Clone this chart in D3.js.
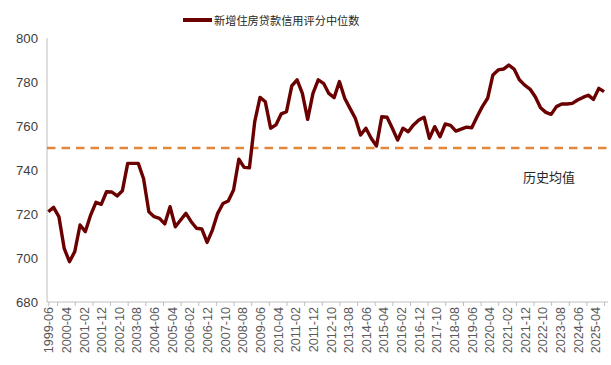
<!DOCTYPE html>
<html><head><meta charset="utf-8">
<script src="https://cdn.jsdelivr.net/npm/d3@7"></script>
<style>body{margin:0;background:#fff}svg{display:block}</style>
</head><body><svg id="c" width="611" height="365"></svg>
<script>
const seriesName = "新增住房贷款信用评分中位数";
const meanLabel = "历史均值";
const meanValue = 750;
const startMonth = "1999-06"; // quarterly observations from here
const values = [
 721,723,718.8,704.4,698.3,702.9,715,712,719.5,725.3,
 724.4,730.1,730,728.2,730.6,743,743,743,736,721,
 718.8,718,715.5,723.3,714.2,717.3,720.3,716.5,713.5,713.2,
 707.1,712.7,720.3,724.8,725.9,730.9,744.9,741.2,741,762,
 773,771,759,760.5,765.5,766.5,778.2,781,774.8,763,
 774.8,781,779.4,774.8,772.9,780.2,772.6,768,763.5,755.9,
 759,754.4,750.9,764.2,764,759,753.6,759,757.4,760.5,
 762.7,764,754.4,759.7,755.1,760.9,760.3,757.7,758.6,759.5,
 759.2,764.2,768.8,772.6,783.2,785.5,785.9,787.7,785.9,781,
 778.6,776.8,773.3,768.3,766.2,765.3,768.8,770,770,770.3,
 771.8,773,774,772.1,777.1,775.6
];
const tickLabels = ["1999-06","2000-04","2001-02","2001-12","2002-10","2003-08","2004-06","2005-04",
 "2006-02","2006-12","2007-10","2008-08","2009-06","2010-04","2011-02","2011-12","2012-10","2013-08",
 "2014-06","2015-04","2016-02","2016-12","2017-10","2018-08","2019-06","2020-04","2021-02","2021-12",
 "2022-10","2023-08","2024-06","2025-04"];
const yTicks = [680,700,720,740,760,780,800];

const monthIdx = s => { const [y,m] = s.split("-").map(Number); const [y0,m0] = startMonth.split("-").map(Number); return (y-y0)*12 + (m-m0); };
const data = values.map((v,i)=>({m:i*3, v}));

const svg = d3.select("#c");
const x = d3.scaleLinear().domain([0,317]).range([48.3,607.6]);
const y = d3.scaleLinear().domain([680,800]).range([302,38]);

// y axis line
svg.append("line").attr("x1",47).attr("x2",47).attr("y1",38).attr("y2",302).attr("stroke","#bfbfbf").attr("stroke-width",1);
// y labels
const ya = svg.append("g").attr("transform","translate(47,0)")
  .call(d3.axisLeft(y).tickValues(yTicks).tickSize(0).tickPadding(9).tickFormat(d3.format("d")));
ya.select(".domain").remove();
ya.selectAll("text").attr("font-family","Liberation Sans, Arial, sans-serif").attr("font-size",13.2).attr("fill","#404040");

// x axis
const xa = svg.append("g").attr("transform","translate(0,302)");
xa.append("line").attr("x1",47).attr("x2",608).attr("stroke","#bfbfbf");
const tickMarks = tickLabels.map(t=>monthIdx(t)+5);
xa.append("g").call(d3.axisBottom(x).tickValues([0,...tickMarks.filter(t=>t<=317)]).tickSize(4).tickFormat(""))
  .call(g=>{g.select(".domain").remove(); g.selectAll("line").attr("stroke","#bfbfbf");});
const xl = xa.append("g").call(d3.axisBottom(x).tickValues(tickLabels.map(monthIdx)).tickSize(0).tickFormat((d,i)=>tickLabels[i]));
xl.select(".domain").remove();
xl.selectAll("text").attr("transform","rotate(-90)").attr("text-anchor","end").attr("x",-5).attr("y",0).attr("dy","0.35em")
  .attr("font-family","Liberation Sans, Arial, sans-serif").attr("font-size",12.6).attr("fill","#595959");

// mean line
svg.append("line").attr("x1",47).attr("x2",608).attr("y1",y(meanValue)).attr("y2",y(meanValue))
  .attr("stroke","#E0893A").attr("stroke-width",2.4).attr("stroke-dasharray","8.5,6");
svg.append("text").attr("x",523).attr("y",182).text(meanLabel)
  .attr("font-family","Noto Sans CJK SC").attr("font-size",13).attr("fill","#262626");

// series line
svg.append("path").datum(data).attr("fill","none").attr("stroke","#6B0000").attr("stroke-width",3.4)
  .attr("stroke-linejoin","round").attr("d",d3.line().x(d=>x(d.m)).y(d=>y(d.v)));

// legend
svg.append("line").attr("x1",183).attr("x2",212).attr("y1",20).attr("y2",20).attr("stroke","#6B0000").attr("stroke-width",4);
svg.append("text").attr("x",214).attr("y",24.5).text(seriesName)
  .attr("font-family","Noto Sans CJK SC").attr("font-size",11.2).attr("fill","#262626");
</script></body></html>
